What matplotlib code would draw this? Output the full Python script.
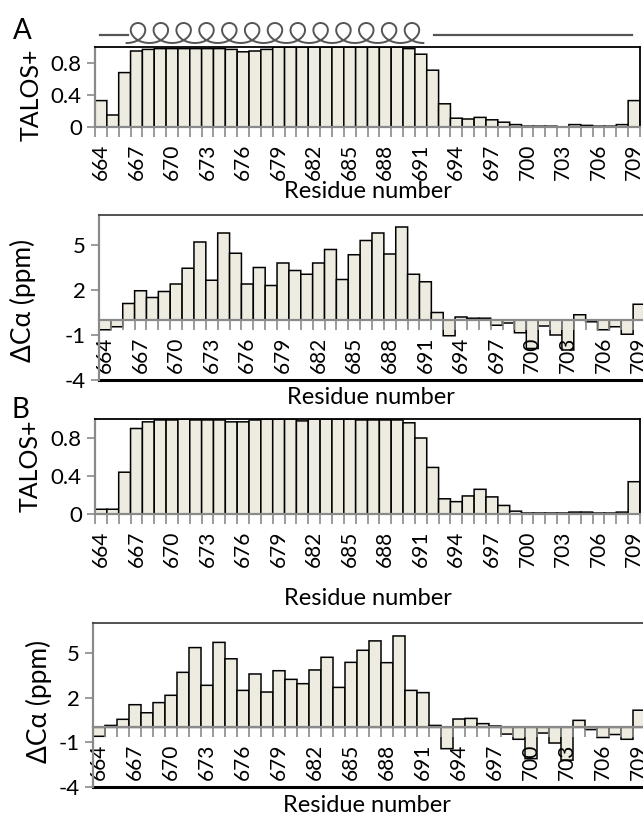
import numpy as np
import matplotlib
matplotlib.use("Agg")
import matplotlib.pyplot as plt
import matplotlib.transforms as mtransforms

# residues 664..709, a label on every third one
residues = list(range(664, 710))
tick_residues = residues[::3]

# A: TALOS+ helix probability and secondary C-alpha shifts
talos_a = [0.33, 0.15, 0.68, 0.95, 0.97, 0.98, 0.98, 0.98, 0.98, 0.98,
           0.98, 0.97, 0.94, 0.95, 0.97, 1.0, 1.0, 1.0, 1.0, 1.0,
           1.0, 1.0, 1.0, 1.0, 1.0, 1.0, 0.98, 0.91, 0.71, 0.29,
           0.11, 0.10, 0.12, 0.09, 0.06, 0.03, 0.01, 0.01, 0.01, 0.0,
           0.03, 0.02, 0.01, 0.01, 0.03, 0.33]
dca_a = [-0.65, -0.45, 1.1, 1.95, 1.5, 1.9, 2.4, 3.45, 5.2, 2.65,
         5.8, 4.45, 2.4, 3.5, 2.3, 3.8, 3.3, 3.05, 3.8, 4.7,
         2.7, 4.35, 5.3, 5.8, 4.4, 6.2, 3.05, 2.55, 0.5, -1.05,
         0.2, 0.12, 0.12, -0.35, -0.2, -0.85, -1.9, -0.4, -1.0, -2.0,
         0.35, -0.12, -0.65, -0.45, -0.95, 1.05]

# B
talos_b = [0.05, 0.05, 0.44, 0.90, 0.97, 0.99, 0.99, 1.0, 0.99, 0.99,
           0.99, 0.97, 0.97, 0.99, 1.0, 1.0, 1.0, 0.98, 1.0, 1.0,
           1.0, 1.0, 0.99, 0.99, 0.99, 0.99, 0.96, 0.80, 0.49, 0.16,
           0.13, 0.19, 0.26, 0.18, 0.09, 0.03, 0.01, 0.01, 0.01, 0.01,
           0.02, 0.02, 0.01, 0.01, 0.02, 0.34]
dca_b = [-0.6, 0.13, 0.54, 1.52, 0.98, 1.66, 2.15, 3.69, 5.35, 2.82,
         5.7, 4.6, 2.48, 3.58, 2.37, 3.8, 3.22, 2.93, 3.85, 4.7,
         2.68, 4.36, 5.17, 5.8, 4.34, 6.13, 2.48, 2.33, 0.13, -1.43,
         0.56, 0.6, 0.25, 0.09, -0.45, -0.8, -2.1, -0.38, -1.05, -2.2,
         0.47, -0.15, -0.68, -0.48, -0.8, 1.15]

# secondary structure cartoon over panel A (residue units)
coil_spans = [(663.9, 666.3), (692.1, 708.8)]
helix_first, helix_last, helix_turns = 667.13, 690.25, 13

plt.rcParams["font.family"] = ["Lato", "DejaVu Sans"]
plt.rcParams["axes.unicode_minus"] = False

W, H = 643, 821
fig = plt.figure(figsize=(W / 100, H / 100), dpi=100)

BAR = "#EEECE1"
GREY = "#8a8a8a"


def box(l, t, r, b):
    return [l / W, 1 - b / H, (r - l) / W, (b - t) / H]


def style_x(ax):
    ax.set_xlim(663.5, 709.5)
    ax.set_xticks(tick_residues)
    ax.set_xticks(np.arange(663.5, 710), minor=True)
    ax.tick_params(axis="x", which="major", length=0, pad=12,
                   labelrotation=90, labelsize=15)
    ax.tick_params(axis="x", which="minor", length=7, width=1.2, color=GREY)
    ax.tick_params(axis="y", length=6, width=1.2, color=GREY, labelsize=16)


def put_labels(ax, ylab, ysize, ylab_px, xlab_px, rect_px):
    l, t, r, b = rect_px
    ax.set_ylabel(ylab, fontsize=ysize)
    ax.yaxis.set_label_coords((ylab_px[0] - l) / (r - l), (b - ylab_px[1]) / (b - t))
    ax.yaxis.label.set_va("center")
    ax.set_xlabel("Residue number", fontsize=17)
    ax.xaxis.set_label_coords((xlab_px[0] - l) / (r - l), (b - xlab_px[1]) / (b - t))
    ax.xaxis.label.set_va("center")


def draw_bars(ax, values):
    bars = ax.bar(residues, values, width=1.0, color=BAR, edgecolor="black",
                  linewidth=1.1)
    for b in bars:
        b.set_snap(False)


def talos_panel(rect_px, values, ylab_px, xlab_px):
    ax = fig.add_axes(box(*rect_px))
    draw_bars(ax, values)
    ax.set_ylim(0, 1.0)
    ax.set_yticks([0, 0.4, 0.8])
    ax.set_yticklabels(["0", "0.4", "0.8"])
    style_x(ax)
    for s in ("left", "bottom"):
        ax.spines[s].set_color(GREY)
        ax.spines[s].set_linewidth(1.6)
    for s in ("top", "right"):
        ax.spines[s].set_color("black")
        ax.spines[s].set_linewidth(1.3)
    put_labels(ax, "TALOS+", 18, ylab_px, xlab_px, rect_px)
    return ax


def dca_panel(rect_px, values, ylab_px, xlab_px):
    ax = fig.add_axes(box(*rect_px))
    draw_bars(ax, values)
    ax.set_ylim(-4, 7)
    ax.set_yticks([-4, -1, 2, 5])
    style_x(ax)
    ax.spines["bottom"].set_position(("data", 0))
    ax.spines["bottom"].set_color(GREY)
    ax.spines["bottom"].set_linewidth(1.6)
    ax.spines["left"].set_color(GREY)
    ax.spines["left"].set_linewidth(1.6)
    ax.spines["top"].set_color("#444444")
    ax.spines["top"].set_linewidth(1.3)
    ax.spines["right"].set_visible(False)
    ax.axhline(-4, color="black", linewidth=2.2, clip_on=False)
    put_labels(ax, "ΔCα (ppm)", 19, ylab_px, xlab_px, rect_px)
    return ax


ax1 = talos_panel((95, 47, 640, 127), talos_a, (31, 95), (368, 192))
ax2 = dca_panel((99, 215, 645, 380), dca_a, (23, 300), (371, 397))
ax3 = talos_panel((95, 419, 640, 514), talos_b, (30, 466), (368, 598))
ax4 = dca_panel((93, 623, 645, 787), dca_b, (39, 701), (367, 805))

# helix / coil cartoon above the first panel
trans = mtransforms.blended_transform_factory(ax1.transData, ax1.transAxes)
for x0, x1 in coil_spans:
    ax1.plot([x0, x1], [1.15, 1.15], color="#555555", lw=1.6,
             transform=trans, clip_on=False)
step = (helix_last - helix_first) / (helix_turns - 1)
t = np.linspace(-np.pi, (2 * helix_turns - 1) * np.pi, 3000)
hx = helix_first + step * t / (2 * np.pi) - 1.05 * np.sin(t)
hy = 1.175 + 0.125 * np.cos(t)
ax1.plot(hx, hy, color="#555555", lw=1.4, transform=trans, clip_on=False)

fig.text(13 / W, 1 - 31 / H, "A", fontsize=20, ha="left", va="center")
fig.text(11 / W, 1 - 410 / H, "B", fontsize=20, ha="left", va="center")

fig.savefig("out.png", dpi=100)
